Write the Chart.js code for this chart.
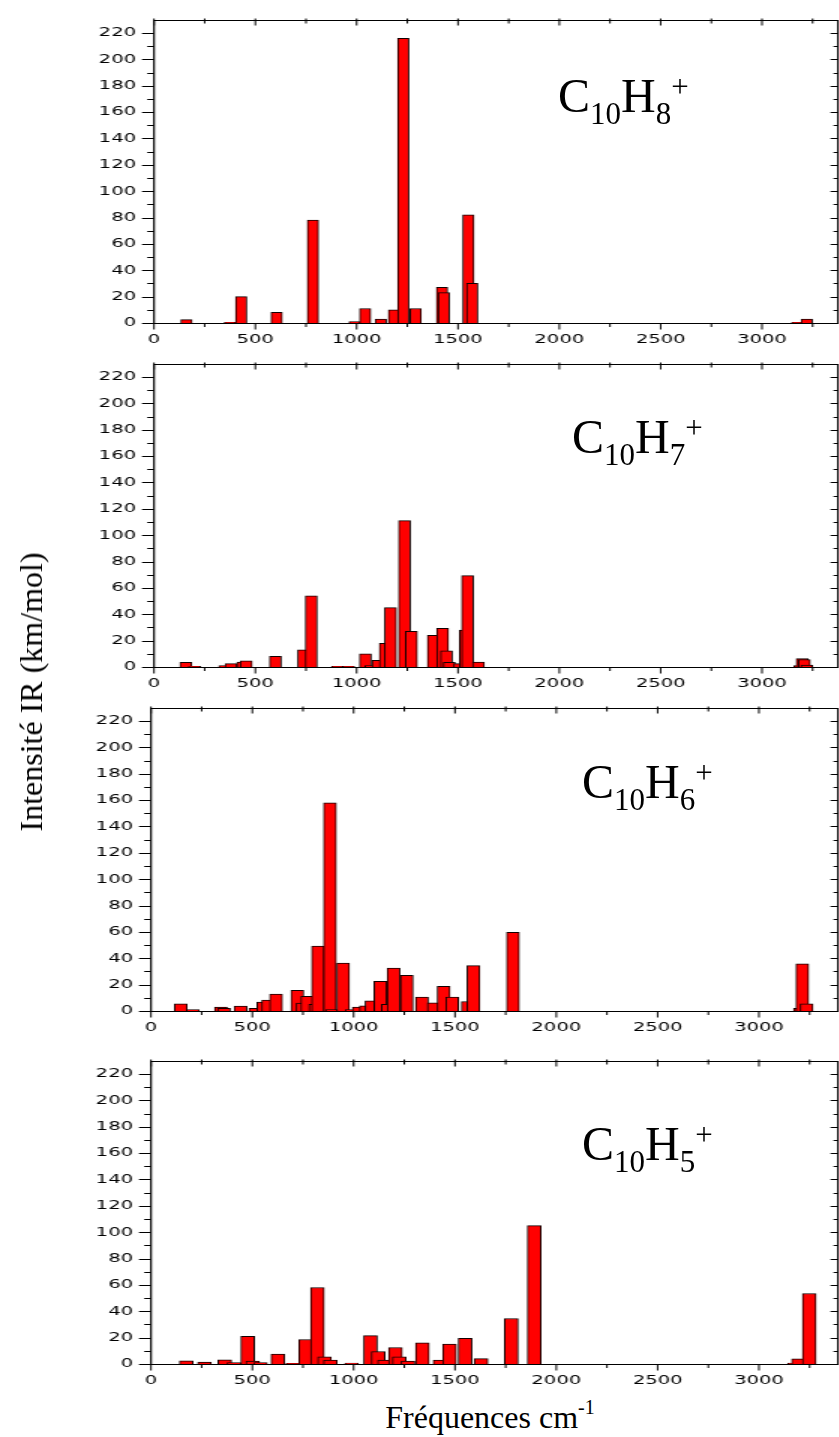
<!DOCTYPE html>
<html>
<head>
<meta charset="utf-8">
<script src="https://cdn.jsdelivr.net/npm/chart.js@4.4.1/dist/chart.umd.min.js"></script>
<style>
html, body { margin: 0; padding: 0; background: #fff; overflow: hidden; }
body { width: 839px; height: 1437px; position: relative; }
canvas.panel { position: absolute; left: 0; width: 840px; height: 350px; }
.formula { position: absolute; font-family: "Liberation Serif", "Times New Roman", serif; font-size: 48px; line-height: 48px; white-space: nowrap; color: #000; }
.formula .sub { font-size: 31px; position: relative; top: 12px; }
.formula .sup { font-size: 31px; position: relative; top: -15px; }
.title { position: absolute; font-family: "Liberation Serif", "Times New Roman", serif; font-size: 32px; line-height: 32px; white-space: nowrap; color: #000; }
.title sup { font-size: 20px; line-height: 0; position: relative; top: -2px; }
</style>
</head>
<body>
<canvas id="p1" class="panel" width="560" height="350" style="top:0px;width:840px;height:350px"></canvas>
<canvas id="p2" class="panel" width="560" height="350" style="top:344px;width:840px;height:350px"></canvas>
<canvas id="p3" class="panel" width="560" height="350" style="top:688px;width:840px;height:350px"></canvas>
<canvas id="p4" class="panel" width="560" height="350" style="top:1041px;width:840px;height:350px"></canvas>

<div class="formula" style="left:558px;top:72px">C<span class="sub">10</span>H<span class="sub">8</span><span class="sup">+</span></div>
<div class="formula" style="left:572px;top:413px">C<span class="sub">10</span>H<span class="sub">7</span><span class="sup">+</span></div>
<div class="formula" style="left:582px;top:758px">C<span class="sub">10</span>H<span class="sub">6</span><span class="sup">+</span></div>
<div class="formula" style="left:582px;top:1120px">C<span class="sub">10</span>H<span class="sub">5</span><span class="sup">+</span></div>

<div class="title" style="left:490px;top:1401px;transform:translateX(-50%)">Fréquences cm<sup>-1</sup></div>
<div class="title" style="left:31px;top:692px;transform:translate(-50%,-50%) rotate(-90deg)">Intensité IR (km/mol)</div>

<script>
// ---- data (frequency in cm-1, IR intensity in km/mol) ----
const c10h8Freq = [160, 375, 430, 605, 784, 990, 1042, 1119, 1184, 1230, 1291, 1421, 1430, 1551, 1570, 3174, 3221];
const c10h8Int  = [2.5, 0.5, 20, 8, 78, 1, 11, 3, 10, 216, 11, 27, 23, 82, 30, 0.5, 3];

const c10h7Freq = [157, 200, 349, 380, 438, 455, 599, 738, 776, 905, 960, 1043, 1070, 1105, 1141, 1167, 1236, 1270, 1378, 1424, 1443, 1457, 1508, 1536, 1547, 1601, 3186, 3198, 3209, 3221];
const c10h7Int  = [3.5, 0.5, 1, 2.5, 3.7, 4.7, 8, 13, 54, 0.5, 0.5, 10, 1, 5, 18, 45, 111, 27, 24, 29.3, 12.3, 3.5, 2.5, 28, 69.3, 3.7, 1, 6.4, 5.7, 1.5];

const c10h6Freq = [147, 207, 345, 360, 442, 515, 554, 578, 617, 722, 748, 771, 810, 824, 883, 893, 948, 990, 1025, 1060, 1088, 1132, 1169, 1197, 1262, 1337, 1395, 1444, 1486, 1563, 1591, 1786, 3202, 3214, 3235];
const c10h6Int  = [5.4, 1, 3, 2, 3.7, 2, 6.7, 8.2, 12.9, 15.6, 6, 11.1, 5, 49.2, 158, 1, 36.3, 1, 3, 4, 7.7, 22.5, 5, 32.6, 27, 10.6, 6.2, 18.8, 10.6, 7.2, 34.4, 59.6, 2, 35.8, 5.4];

const c10h5Freq = [174, 264, 364, 410, 477, 502, 540, 626, 700, 763, 821, 856, 885, 990, 1083, 1121, 1152, 1206, 1225, 1268, 1339, 1426, 1473, 1550, 1629, 1778, 1891, 3175, 3195, 3248];
const c10h5Int  = [2.4, 1.5, 3.2, 1, 21, 2.2, 1, 7.5, 0.5, 18.6, 58, 5.5, 2.9, 0.7, 21.5, 9.5, 2.9, 12.5, 5.5, 2.2, 16, 2.9, 15.2, 19.5, 4.1, 34.5, 105, 0.7, 4, 53.5];

// ---- ticks ----
const xTickValues = [0, 500, 1000, 1500, 2000, 2500, 3000];
const xTickLabels = ['0', '500', '1000', '1500', '2000', '2500', '3000'];
const xMinorTicks = [250, 750, 1250, 1750, 2250, 2750, 3250];
const yTickValues = [0, 20, 40, 60, 80, 100, 120, 140, 160, 180, 200, 220];
const yTickLabels = ['0', '20', '40', '60', '80', '100', '120', '140', '160', '180', '200', '220'];
const yMinorTicks = [10, 30, 50, 70, 90, 110, 130, 150, 170, 190, 210];

const axisFrame = {
  id: 'axisFrame',
  afterDatasetsDraw(chart) {
    const { ctx, chartArea: a, scales: { x, y } } = chart;
    ctx.save();
    ctx.strokeStyle = '#000';
    const yb = Math.round(a.bottom) + 0.5, yt = Math.round(a.top) + 0.5;
    ctx.lineWidth = 1;
    ctx.beginPath();
    ctx.moveTo(a.left, yb); ctx.lineTo(a.right, yb);
    ctx.moveTo(a.left, yt); ctx.lineTo(a.right, yt);
    yTickValues.forEach(v => {
      const py = Math.round(y.getPixelForValue(v)) + 0.5;
      ctx.moveTo(a.left - 8, py); ctx.lineTo(a.left, py);
      ctx.moveTo(a.right - 5, py); ctx.lineTo(a.right, py);
    });
    yMinorTicks.forEach(v => {
      const py = Math.round(y.getPixelForValue(v)) + 0.5;
      ctx.moveTo(a.left - 4.5, py); ctx.lineTo(a.left, py);
      ctx.moveTo(a.right - 3, py); ctx.lineTo(a.right, py);
    });
    ctx.stroke();
    ctx.beginPath();
    xTickValues.forEach(v => {
      const px = x.getPixelForValue(v);
      ctx.moveTo(px, yb); ctx.lineTo(px, yb + 6);
      ctx.moveTo(px, yt - 2); ctx.lineTo(px, yt + 5);
    });
    xMinorTicks.forEach(v => {
      const px = x.getPixelForValue(v);
      ctx.moveTo(px, yb); ctx.lineTo(px, yb + 3.5);
      ctx.moveTo(px, yt - 2); ctx.lineTo(px, yt + 3);
    });
    ctx.stroke();
    ctx.lineWidth = 1.2;
    ctx.beginPath();
    ctx.moveTo(a.left, yt - 0.5); ctx.lineTo(a.left, yb + 0.5);
    ctx.moveTo(a.right, yt - 0.5); ctx.lineTo(a.right, yb + 0.5);
    ctx.stroke();
    ctx.restore();
  }
};

const tickFont = { family: '"DejaVu Sans", sans-serif', size: 13 };

function makePanel(id, freqs, ints, leftW, xMax, barW) {
  const points = freqs.map((f, i) => ({ x: f, y: ints[i] }));
  return new Chart(document.getElementById(id), {
    type: 'bar',
    data: {
      datasets: [{
        data: points,
        backgroundColor: '#ff0000',
        borderColor: '#120000',
        borderWidth: 1,
        barThickness: barW,
        grouped: false
      }]
    },
    options: {
      responsive: false,
      animation: false,
      devicePixelRatio: 1,
      layout: { padding: { top: 13, right: 1.33, left: 0, bottom: 0 } },
      plugins: { legend: { display: false }, tooltip: { enabled: false } },
      scales: {
        x: {
          type: 'linear', min: 0, max: xMax, offset: false,
          grid: { display: false, drawTicks: false }, border: { display: false },
          afterBuildTicks: s => { s.ticks = xTickValues.map(v => ({ value: v })); },
          afterFit: s => { s.height = 27; },
          ticks: {
            padding: 9, font: tickFont, color: '#000', maxRotation: 0, autoSkip: false,
            callback: v => { const i = xTickValues.indexOf(v); return i >= 0 ? xTickLabels[i] : ''; }
          }
        },
        y: {
          type: 'linear', min: 0, max: 230,
          grid: { display: false, drawTicks: false }, border: { display: false },
          afterBuildTicks: s => { s.ticks = yTickValues.map(v => ({ value: v })); },
          afterFit: s => { s.width = leftW; },
          ticks: {
            padding: 12, font: tickFont, color: '#000', autoSkip: false,
            callback: v => { const i = yTickValues.indexOf(v); return i >= 0 ? yTickLabels[i] : ''; }
          }
        }
      }
    },
    plugins: [axisFrame]
  });
}

makePanel('p1', c10h8Freq, c10h8Int, 102.67, 3375, 7.5);
makePanel('p2', c10h7Freq, c10h7Int, 102.67, 3375, 7.9);
makePanel('p3', c10h6Freq, c10h6Int, 100.67, 3390, 8.5);
makePanel('p4', c10h5Freq, c10h5Int, 100.67, 3390, 9.1);
</script>
</body>
</html>
